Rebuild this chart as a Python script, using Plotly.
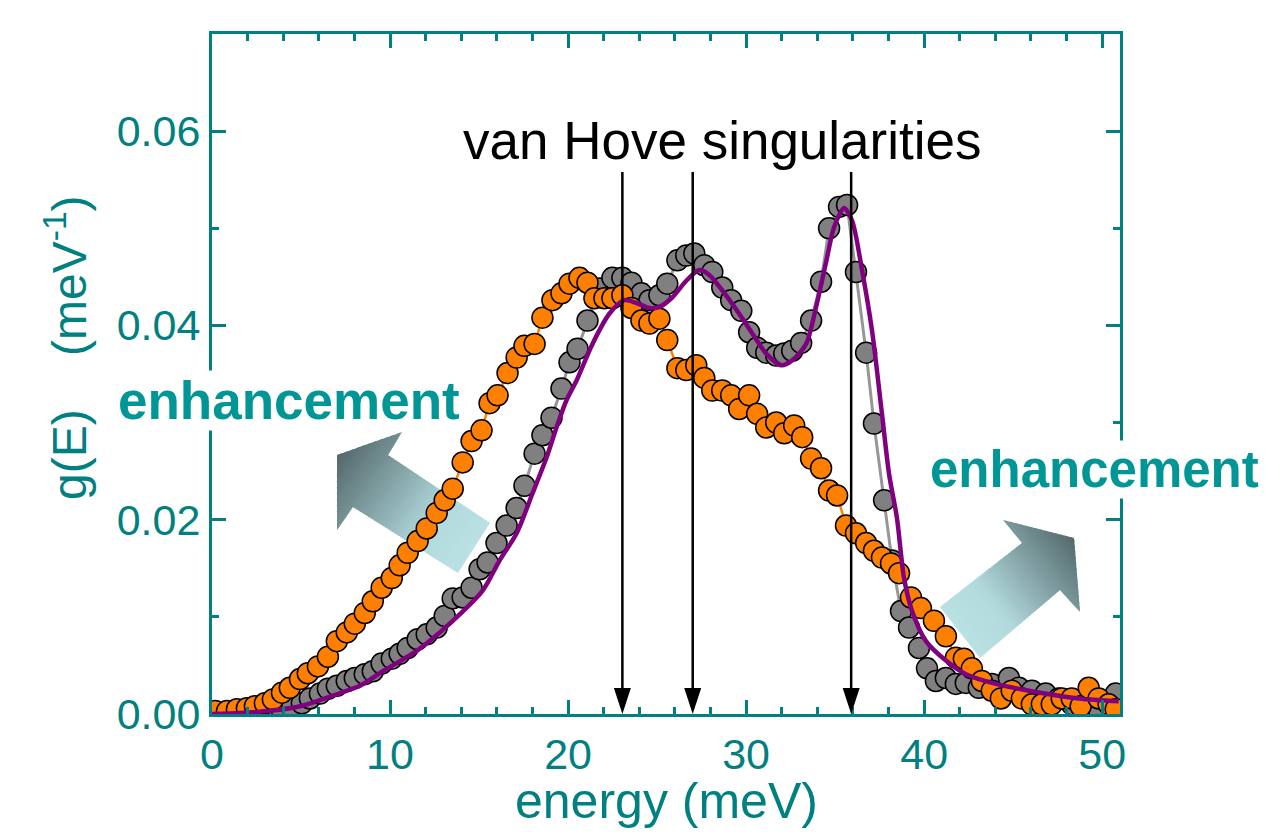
import plotly.graph_objects as go

# ---------------- data ----------------
orange_E = [0.17, 0.84, 1.40, 1.96, 2.41, 2.97, 3.42, 3.93, 4.37, 4.94, 5.38, 5.95, 6.51, 7.01,
            7.57, 8.02, 8.58, 9.03, 9.53, 10.10, 10.54, 10.99, 11.55, 12.06, 12.62, 13.07, 13.52,
            14.08, 14.58, 15.14, 15.59, 16.04, 16.60, 17.11, 17.55, 18.12, 18.56, 19.12, 19.63,
            20.08, 20.64, 21.09, 21.48, 22.04, 22.49, 23.05, 23.56, 24.12, 24.57, 25.13, 25.57,
            26.14, 26.64, 27.20, 27.65, 28.10, 28.66, 29.16, 29.61, 30.17, 30.62, 31.13, 31.69,
            32.14, 32.70, 33.15, 33.65, 34.21, 34.66, 35.11, 35.61, 36.17, 36.74, 37.18, 37.63,
            38.14, 38.59, 39.26, 39.82, 40.55, 41.22, 41.78, 42.23, 42.68, 43.24, 43.80, 44.31,
            44.92, 45.49, 46.05, 46.61, 47.17, 47.73, 48.29, 48.79, 49.24, 49.80, 50.36, 50.76]
orange_g = [0.0003, 0.0003, 0.0005, 0.0006, 0.0008, 0.0011, 0.0015, 0.0022, 0.0027, 0.0036, 0.0042,
            0.0049, 0.0059, 0.0075, 0.0084, 0.0093, 0.0104, 0.0116, 0.0130, 0.0140, 0.0153, 0.0166,
            0.0178, 0.0191, 0.0207, 0.0220, 0.0232, 0.0259, 0.0281, 0.0292, 0.0320, 0.0328, 0.0351,
            0.0367, 0.0379, 0.0381, 0.0408, 0.0426, 0.0433, 0.0443, 0.0449, 0.0444, 0.0428, 0.0428,
            0.0428, 0.0431, 0.0418, 0.0405, 0.0402, 0.0407, 0.0385, 0.0356, 0.0354, 0.0359, 0.0346,
            0.0333, 0.0333, 0.0328, 0.0314, 0.0328, 0.0309, 0.0295, 0.0300, 0.0289, 0.0297, 0.0285,
            0.0263, 0.0253, 0.0230, 0.0225, 0.0194, 0.0186, 0.0176, 0.0168, 0.0161, 0.0155, 0.0145,
            0.0120, 0.0109, 0.0096, 0.0080, 0.0058, 0.0057, 0.0047, 0.0034, 0.0024, 0.0016, 0.0024,
            0.0016, 0.0010, 0.0010, 0.0010, 0.0016, 0.0016, 0.0008, 0.0027, 0.0016, 0.0010, 0.0005]

gray_E = [1.57, 2.69, 3.37, 3.93, 4.49, 5.05, 5.50, 6.06, 6.51, 7.01, 7.57, 8.02, 8.58, 9.03, 9.53,
          10.10, 10.54, 10.99, 11.55, 12.06, 12.62, 13.07, 13.52, 14.08, 14.58, 15.03, 15.48, 15.98,
          16.55, 17.11, 17.55, 18.12, 18.56, 19.07, 19.63, 20.08, 20.53, 21.09, 21.76, 22.49, 23.05,
          23.56, 24.12, 24.57, 25.13, 25.57, 26.14, 26.64, 27.09, 27.65, 28.10, 28.66, 29.16, 29.73,
          30.17, 30.62, 31.13, 31.69, 32.14, 32.59, 33.09, 33.65, 34.21, 34.66, 35.22, 35.67, 36.17,
          36.74, 37.18, 37.75, 38.19, 38.70, 39.15, 39.71, 40.16, 40.66, 41.22, 41.78, 42.34, 43.07,
          43.80, 44.76, 45.32, 46.05, 46.83, 47.56, 48.29, 49.07, 49.80, 50.76]
gray_g = [0.0000, 0.0000, 0.0001, 0.0004, 0.0006, 0.0011, 0.0016, 0.0021, 0.0026, 0.0029, 0.0034,
          0.0037, 0.0041, 0.0044, 0.0052, 0.0057, 0.0062, 0.0068, 0.0077, 0.0082, 0.0089, 0.0101,
          0.0119, 0.0120, 0.0130, 0.0149, 0.0156, 0.0176, 0.0194, 0.0212, 0.0235, 0.0268, 0.0287,
          0.0305, 0.0335, 0.0362, 0.0376, 0.0405, 0.0438, 0.0449, 0.0449, 0.0444, 0.0433, 0.0426,
          0.0431, 0.0443, 0.0467, 0.0472, 0.0474, 0.0462, 0.0455, 0.0439, 0.0426, 0.0415, 0.0393,
          0.0377, 0.0372, 0.0369, 0.0371, 0.0374, 0.0382, 0.0405, 0.0445, 0.0500, 0.0522, 0.0524,
          0.0455, 0.0372, 0.0299, 0.0220, 0.0158, 0.0106, 0.0089, 0.0068, 0.0047, 0.0034, 0.0037,
          0.0031, 0.0032, 0.0027, 0.0031, 0.0037, 0.0027, 0.0024, 0.0021, 0.0016, 0.0010, 0.0006,
          0.0005, 0.0021]

fit_E = [0.0, 1.57, 3.08, 4.94, 6.79, 8.30, 9.59, 11.50, 13.35, 15.20, 16.15, 17.11, 18.00, 18.79,
         19.35, 19.91, 20.47, 21.37, 22.32, 23.16, 23.84, 24.57, 25.13, 25.86, 26.64, 27.37, 27.93,
         28.66, 29.61, 30.34, 31.13, 31.97, 32.59, 33.37, 33.93, 34.49, 34.94, 35.50, 35.95, 36.51,
         37.07, 37.63, 38.03, 38.47, 38.87, 39.32, 40.10, 41.22, 42.34, 44.03, 45.88, 48.68, 50.93]
fit_g = [0.0, 0.0001, 0.0003, 0.0008, 0.0019, 0.0029, 0.0044, 0.0065, 0.0093, 0.0127, 0.0158, 0.0186,
         0.0227, 0.0264, 0.0295, 0.0323, 0.0343, 0.0381, 0.0412, 0.0426, 0.0423, 0.0418, 0.0419,
         0.0429, 0.0446, 0.0457, 0.0452, 0.0436, 0.0412, 0.0392, 0.0371, 0.0359, 0.0364, 0.0381,
         0.0419, 0.0465, 0.0501, 0.0521, 0.0508, 0.0457, 0.0395, 0.0309, 0.0247, 0.0202, 0.0140,
         0.0106, 0.0075, 0.0055, 0.0041, 0.0031, 0.0024, 0.0016, 0.0013]

vhs_E = [23.05, 27.0, 35.9]
vhs_top = 0.0558

x_ticks = [0, 10, 20, 30, 40, 50]
y_ticks = [0.00, 0.02, 0.04, 0.06]

# ---------------- layout geometry / styles ----------------
W, H = 1266, 838
X_RANGE = [0, 51]
Y_RANGE = [0, 0.07]
PL, PR, PT, PB = 212, 1120, 34, 714
TEAL = "rgb(0,128,128)"
TEAL_TXT = "rgb(0,150,150)"
FONT = "Arial, Liberation Sans, sans-serif"


def px2paper(px, py):
    return (px - PL) / (PR - PL), (PB - py) / (PB - PT)


def px_per_x():
    return (PR - PL) / (X_RANGE[1] - X_RANGE[0])


def px_per_y():
    return (PB - PT) / (Y_RANGE[1] - Y_RANGE[0])


fig = go.Figure()

fig.add_trace(go.Scatter(
    x=gray_E, y=gray_g, mode="lines+markers",
    line=dict(color="rgb(150,150,150)", width=3),
    marker=dict(size=21, color="rgb(128,128,128)", line=dict(color="black", width=1.5)),
    showlegend=False, cliponaxis=True))
fig.add_trace(go.Scatter(
    x=orange_E, y=orange_g, mode="lines+markers",
    line=dict(color="rgb(255,128,0)", width=2.5),
    marker=dict(size=21, color="rgb(255,128,0)", line=dict(color="black", width=1.5)),
    showlegend=False, cliponaxis=True))
fig.add_trace(go.Scatter(
    x=fit_E, y=fit_g, mode="lines",
    line=dict(color="rgb(128,0,128)", width=4.5, shape="spline", smoothing=0.8),
    showlegend=False))

shapes = []


# ---- gradient arrows (decoration) ----
def clip(poly, nx, ny, c, keep_ge):
    out = []
    n = len(poly)
    for i in range(n):
        p, q = poly[i], poly[(i + 1) % n]
        dp = p[0] * nx + p[1] * ny - c
        dq = q[0] * nx + q[1] * ny - c
        ip = dp >= 0 if keep_ge else dp <= 0
        iq = dq >= 0 if keep_ge else dq <= 0
        if ip:
            out.append(p)
        if ip != iq:
            t = dp / (dp - dq)
            out.append((p[0] + t * (q[0] - p[0]), p[1] + t * (q[1] - p[1])))
    return out


def lerp_col(stops, t):
    for (t0, c0), (t1, c1) in zip(stops[:-1], stops[1:]):
        if t <= t1:
            f = 0 if t1 == t0 else (t - t0) / (t1 - t0)
            f = max(0, min(1, f))
            return "rgb(%d,%d,%d)" % tuple(round(a + f * (b - a)) for a, b in zip(c0, c1))
    return "rgb(%d,%d,%d)" % stops[-1][1]


def gradient_poly(poly, p_light, p_dark, stops, n=48):
    dx, dy = p_dark[0] - p_light[0], p_dark[1] - p_light[1]
    L = (dx * dx + dy * dy) ** 0.5
    ux, uy = dx / L, dy / L
    projs = [(p[0] - p_light[0]) * ux + (p[1] - p_light[1]) * uy for p in poly]
    a, b = min(projs), max(projs)
    base = p_light[0] * ux + p_light[1] * uy
    for k in range(n):
        s0 = a + (b - a) * k / n
        s1 = a + (b - a) * (k + 1) / n + (b - a) / n * 0.6
        piece = clip(poly, ux, uy, base + s0, True)
        if len(piece) < 3:
            continue
        piece = clip(piece, ux, uy, base + s1, False)
        if len(piece) < 3:
            continue
        t = ((s0 + s1) / 2) / L
        col = lerp_col(stops, max(0, min(1, t)))
        pts = [px2paper(*p) for p in piece]
        path = "M " + " L ".join("%.5f,%.5f" % q for q in pts) + " Z"
        shapes.append(dict(type="path", path=path, xref="paper", yref="paper",
                           fillcolor=col, line=dict(width=0), layer="below"))


arrow_stops = [(0.0, (186, 226, 229)), (0.3, (178, 218, 221)), (1.0, (84, 106, 109))]
left_arrow = [(337, 455), (402, 432), (388, 455), (490, 523), (458, 573), (353, 507), (337, 530)]
gradient_poly(left_arrow, (474, 548), (340, 452), arrow_stops)
right_arrow = [(940, 607), (1022, 543), (1003, 520), (1074, 538), (1080, 612), (1060, 590), (980, 658)]
gradient_poly(right_arrow, (960, 632), (1076, 540), arrow_stops)

# ---- van Hove arrows ----
head_len_px, head_w_px = 26, 17
for e in vhs_E:
    base_y = head_len_px / px_per_y()
    half_w = head_w_px / 2 / px_per_x()
    shapes.append(dict(type="line", xref="x", yref="y", x0=e, x1=e, y0=vhs_top, y1=base_y,
                       line=dict(color="black", width=2.5)))
    shapes.append(dict(type="path", xref="x", yref="y",
                       path="M %f,%f L %f,%f L %f,%f Z" % (e - half_w, base_y, e + half_w, base_y, e, 0.0),
                       fillcolor="black", line=dict(width=0)))

fig.update_layout(shapes=shapes)

annotations = []
annotations.append(dict(text="van Hove singularities", xref="paper", yref="paper",
                        x=px2paper(722, 0)[0], y=px2paper(0, 140)[1], showarrow=False,
                        xanchor="center", yanchor="middle",
                        font=dict(size=53, color="black", family=FONT)))
annotations.append(dict(text="<b>enhancement</b>", xref="paper", yref="paper",
                        x=px2paper(117, 0)[0], y=px2paper(0, 400)[1], showarrow=False,
                        xanchor="left", yanchor="middle", bgcolor="white", borderpad=0,
                        font=dict(size=53, color=TEAL_TXT, family=FONT)))
annotations.append(dict(text="<b>enhancement</b>", xref="paper", yref="paper",
                        x=px2paper(929, 0)[0], y=px2paper(0, 470)[1], showarrow=False,
                        xanchor="left", yanchor="middle", bgcolor="white", borderpad=0,
                        font=dict(size=51, color=TEAL_TXT, family=FONT)))
annotations.append(dict(text="g(E)\u00a0\u00a0\u00a0\u00a0(meV<sup>-1</sup>)", xref="paper", yref="paper",
                        x=px2paper(66, 0)[0], y=px2paper(0, 348)[1], showarrow=False,
                        textangle=-90, xanchor="center", yanchor="middle",
                        font=dict(size=48, color=TEAL, family=FONT)))
annotations.append(dict(text="energy (meV)", xref="paper", yref="paper",
                        x=px2paper(666, 0)[0], y=px2paper(0, 801)[1], showarrow=False,
                        xanchor="center", yanchor="middle",
                        font=dict(size=50, color=TEAL, family=FONT)))
fig.update_layout(annotations=annotations)

axis_common = dict(showline=True, linecolor=TEAL, linewidth=3, mirror="ticks",
                   ticks="inside", ticklen=14, tickwidth=2.5, tickcolor=TEAL,
                   showgrid=False, zeroline=False,
                   tickfont=dict(size=43, color=TEAL, family=FONT))

fig.update_xaxes(range=X_RANGE, tickvals=x_ticks, ticktext=[str(v) for v in x_ticks],
                 minor=dict(ticks="inside", ticklen=7, tickwidth=2.5, tickcolor=TEAL, dtick=2, tick0=0),
                 **axis_common)
fig.update_yaxes(range=Y_RANGE, tickvals=y_ticks, ticktext=["%.2f" % v for v in y_ticks],
                 minor=dict(ticks="inside", ticklen=7, tickwidth=2.5, tickcolor=TEAL, dtick=0.01, tick0=0),
                 **axis_common)

fig.update_layout(width=W, height=H, paper_bgcolor="white", plot_bgcolor="white",
                  margin=dict(l=PL, r=W - PR, t=PT, b=H - PB),
                  font=dict(family=FONT))

fig.write_html("out.html")
